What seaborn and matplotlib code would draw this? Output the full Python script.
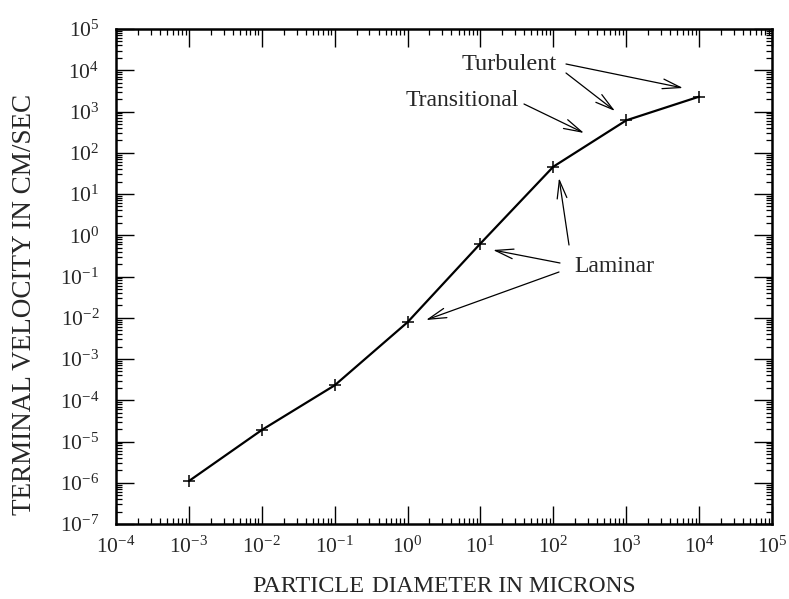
import numpy as np
import pandas as pd
import matplotlib
matplotlib.use("Agg")
import matplotlib.pyplot as plt
import seaborn as sns
from matplotlib.ticker import LogLocator, FuncFormatter, NullFormatter

# Data
diameter_um = [1e-3, 1e-2, 1e-1, 1e0, 1e1, 1e2, 1e3, 1e4]
velocity_cm_s = [1.1e-6, 1.9e-5, 2.3e-4, 7.8e-3, 0.63, 46, 610, 2290]

x_limits = [1e-4, 1e5]
y_limits = [1e-7, 1e5]
x_label_big = "PARTICLE"
x_label_rest = "DIAMETER IN MICRONS"
y_label = "TERMINAL VELOCITY IN CM/SEC"

sns.set_style("ticks")
plt.rcParams["font.family"] = ["Liberation Serif", "DejaVu Serif"]
plt.rcParams["mathtext.fontset"] = "custom"
plt.rcParams["mathtext.rm"] = "Liberation Serif"
plt.rcParams["mathtext.it"] = "Liberation Serif:italic"
plt.rcParams["mathtext.default"] = "rm"

W, H = 789, 599
fig = plt.figure(figsize=(W / 100, H / 100), dpi=100)
L, R, T, B = 116, 772, 29, 524
ax = fig.add_axes([L / W, 1 - B / H, (R - L) / W, (B - T) / H])

df = pd.DataFrame({"d": diameter_um, "v": velocity_cm_s})
sns.lineplot(data=df, x="d", y="v", ax=ax, color="black", linewidth=1.6,
             marker="+", markersize=9, markeredgewidth=1.1, markeredgecolor="black")

ax.set_xscale("log")
ax.set_yscale("log")
ax.set_xlim(*x_limits)
ax.set_ylim(*y_limits)

fmt = FuncFormatter(lambda v, p: r"$10^{%d}$" % int(round(np.log10(v))))
ax.xaxis.set_major_locator(LogLocator(base=10, numticks=20))
ax.yaxis.set_major_locator(LogLocator(base=10, numticks=20))
ax.xaxis.set_minor_locator(LogLocator(base=10, subs=np.arange(2, 10), numticks=20))
ax.yaxis.set_minor_locator(LogLocator(base=10, subs=np.arange(2, 10), numticks=20))
ax.xaxis.set_major_formatter(fmt)
ax.yaxis.set_major_formatter(fmt)
ax.xaxis.set_minor_formatter(NullFormatter())
ax.yaxis.set_minor_formatter(NullFormatter())

ax.tick_params(which="major", direction="in", length=13, width=1.0,
               top=True, right=True, labelsize=15.5, color="black")
ax.tick_params(which="minor", direction="in", length=4.5, width=0.9,
               top=True, right=True, color="black")
ax.tick_params(axis="x", which="major", pad=9)
ax.tick_params(axis="y", which="major", pad=12)
for s in ax.spines.values():
    s.set_linewidth(1.8)
    s.set_color("black")
ax.set_xlabel("")
ax.set_ylabel("")

# axis titles
fig.text(25 / W, 1 - 304 / H, y_label, rotation=90, ha="center", va="center", fontsize=19.5)
fig.text(252 / W, 1 - 592 / H, x_label_big, ha="left", va="baseline", fontsize=17.5)
fig.text(372 / W, 1 - 592 / H, x_label_rest, ha="left", va="baseline", fontsize=16.8)

def fr(px, py):
    return ((px - L) / (R - L), (B - py) / (B - T))

arrow = dict(arrowstyle="->,head_length=1.3,head_width=0.35", color="black",
             linewidth=0.9, shrinkA=0, shrinkB=0)

ax.text(*fr(509, 65), "Turbulent", transform=ax.transAxes, ha="center", va="center", fontsize=17.5)
ax.text(*fr(462, 101), "Transitional", transform=ax.transAxes, ha="center", va="center", fontsize=17)
ax.text(*fr(614, 267), "Laminar", transform=ax.transAxes, ha="center", va="center", fontsize=17)

arrows = [((566, 64), (683, 88)), ((566, 73), (615, 111)), ((524, 104), (584, 133)),
          ((569, 245), (559, 178)), ((560, 263), (493, 250)), ((559, 272), (426, 320))]
for (sx, sy), (tx, ty) in arrows:
    ax.annotate("", xy=fr(tx, ty), xycoords="axes fraction",
                xytext=fr(sx, sy), textcoords="axes fraction", arrowprops=arrow)

fig.savefig("out.png", dpi=100, facecolor="white")
